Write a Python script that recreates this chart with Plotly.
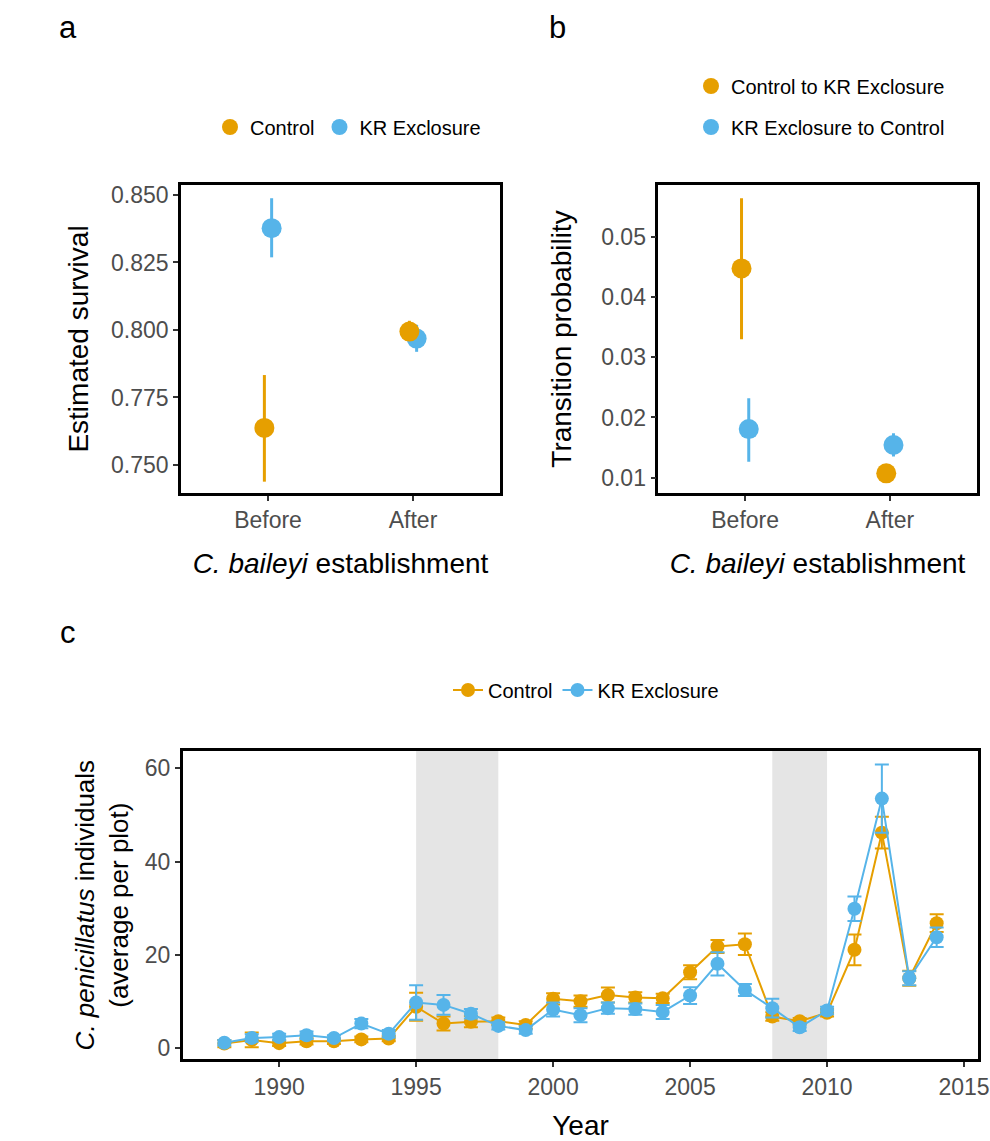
import plotly.graph_objects as go

ORANGE = "#E69F00"
BLUE = "#56B4E9"

# ---- Panel a: estimated survival ----
periods = ["Before", "After"]
surv_control = [0.7637, 0.7994]
surv_control_lo = [0.7438, 0.7960]
surv_control_hi = [0.7833, 0.8034]
surv_kr = [0.8377, 0.7968]
surv_kr_lo = [0.8269, 0.7919]
surv_kr_hi = [0.8488, 0.8019]

# ---- Panel b: transition probability ----
trans_c2k = [0.04475, 0.01073]
trans_c2k_lo = [0.0330, 0.0105]
trans_c2k_hi = [0.0564, 0.0110]
trans_k2c = [0.01807, 0.01543]
trans_k2c_lo = [0.01265, 0.0135]
trans_k2c_hi = [0.0232, 0.0174]

# ---- Panel c: C. penicillatus abundance ----
years = list(range(1988, 2015))
pp_control = [1.0, 1.8, 1.1, 1.5, 1.5, 1.9, 2.1, 8.9, 5.3, 5.7, 5.8, 5.0, 10.6, 10.1,
              11.4, 10.9, 10.7, 16.3, 21.8, 22.3, 6.8, 5.8, 7.6, 21.1, 46.2, 15.0, 26.8]
pp_control_se = [0.8, 1.6, 0.6, 0.7, 0.6, 0.6, 0.6, 3.0, 1.5, 1.2, 0.8, 0.8, 1.2, 1.2,
                 1.6, 1.1, 1.0, 1.5, 1.4, 2.3, 0.9, 0.7, 0.8, 3.3, 3.4, 1.6, 1.9]
pp_kr = [1.2, 2.2, 2.4, 2.8, 2.2, 5.3, 3.1, 9.8, 9.3, 7.4, 4.8, 3.9, 8.3, 7.1,
         8.6, 8.4, 7.8, 11.3, 18.1, 12.5, 8.6, 4.5, 8.1, 29.9, 53.5, 15.0, 23.8]
pp_kr_se = [0.6, 0.8, 0.7, 0.8, 0.6, 1.0, 0.8, 3.7, 2.1, 1.0, 0.8, 0.8, 1.5, 1.5,
            1.2, 1.2, 1.5, 1.8, 2.5, 1.3, 2.0, 0.8, 0.8, 2.6, 7.3, 1.5, 2.1]
shade_periods = [(1995, 1998), (2008, 2010)]

DODGE = 0.025
pos = [i + 1 for i in range(len(periods))]

def diffs(v, lo, hi):
    return [h - m for h, m in zip(hi, v)], [m - l for m, l in zip(v, lo)]

fig = go.Figure()

# Panel a (KR drawn first so Control sits on top, as in the original)
up, dn = diffs(surv_kr, surv_kr_lo, surv_kr_hi)
fig.add_trace(go.Scatter(
    x=[p + DODGE for p in pos], y=surv_kr, mode="markers", name="KR Exclosure",
    marker=dict(color=BLUE, size=20, line=dict(width=0)),
    error_y=dict(type="data", array=up, arrayminus=dn, color=BLUE, thickness=3, width=0),
    xaxis="x", yaxis="y", legend="legend", legendrank=2))
up, dn = diffs(surv_control, surv_control_lo, surv_control_hi)
fig.add_trace(go.Scatter(
    x=[p - DODGE for p in pos], y=surv_control, mode="markers", name="Control",
    marker=dict(color=ORANGE, size=20, line=dict(width=0)),
    error_y=dict(type="data", array=up, arrayminus=dn, color=ORANGE, thickness=3, width=0),
    xaxis="x", yaxis="y", legend="legend", legendrank=1))

# Panel b
up, dn = diffs(trans_c2k, trans_c2k_lo, trans_c2k_hi)
fig.add_trace(go.Scatter(
    x=[p - DODGE for p in pos], y=trans_c2k, mode="markers", name="Control to KR Exclosure",
    marker=dict(color=ORANGE, size=20, line=dict(width=0)),
    error_y=dict(type="data", array=up, arrayminus=dn, color=ORANGE, thickness=3, width=0),
    xaxis="x2", yaxis="y2", legend="legend2", legendrank=1, legendgroup="b1"))
up, dn = diffs(trans_k2c, trans_k2c_lo, trans_k2c_hi)
fig.add_trace(go.Scatter(
    x=[p + DODGE for p in pos], y=trans_k2c, mode="markers", name="KR Exclosure to Control",
    marker=dict(color=BLUE, size=20, line=dict(width=0)),
    error_y=dict(type="data", array=up, arrayminus=dn, color=BLUE, thickness=3, width=0),
    xaxis="x2", yaxis="y2", legend="legend2", legendrank=2, legendgroup="b2"))

# Panel c
fig.add_trace(go.Scatter(
    x=years, y=pp_control, mode="lines+markers", name="Control",
    line=dict(color=ORANGE, width=2), marker=dict(color=ORANGE, size=14),
    error_y=dict(type="data", array=pp_control_se, color=ORANGE, thickness=2, width=7),
    xaxis="x3", yaxis="y3", legend="legend3"))
fig.add_trace(go.Scatter(
    x=years, y=pp_kr, mode="lines+markers", name="KR Exclosure",
    line=dict(color=BLUE, width=2), marker=dict(color=BLUE, size=14),
    error_y=dict(type="data", array=pp_kr_se, color=BLUE, thickness=2, width=7),
    xaxis="x3", yaxis="y3", legend="legend3"))

for x0, x1 in shade_periods:
    fig.add_shape(type="rect", xref="x3", yref="y3 domain", x0=x0, x1=x1, y0=0, y1=1,
                  fillcolor="#E5E5E5", line=dict(width=0), layer="below")

W, H = 990, 1141
FONT = "Liberation Sans, Arial, sans-serif"
TICKF = dict(family=FONT, size=23, color="#4D4D4D")
TITLEF = dict(family=FONT, size=28, color="#000000")

def ax(**kw):
    base = dict(showline=True, mirror=True, linecolor="black", linewidth=2.5,
                ticks="outside", ticklen=5, tickwidth=1.5, tickcolor="#333333",
                showgrid=False, zeroline=False, tickfont=TICKF, automargin=False)
    base.update(kw)
    return base

ya_dom = [1 - 493 / H, 1 - 185 / H]
yc_dom = [1 - 1059.3 / H, 1 - 751 / H]

fig.update_layout(
    width=W, height=H, margin=dict(l=0, r=0, t=0, b=0, autoexpand=False),
    paper_bgcolor="white", plot_bgcolor="white",
    font=dict(family=FONT, color="black"),
    xaxis=ax(domain=[181 / W, 500 / W], range=[0.4, 2.6], tickvals=pos, ticktext=periods,
             title=dict(text="<i>C. baileyi</i> establishment", font=TITLEF, standoff=22),
             anchor="y"),
    yaxis=ax(domain=ya_dom, range=[0.7396, 0.8537], tickvals=[0.75, 0.775, 0.8, 0.825, 0.85],
             tickformat=".3f",
             title=dict(text="Estimated survival", font=TITLEF, standoff=15), anchor="x"),
    xaxis2=ax(domain=[658.3 / W, 976.7 / W], range=[0.4, 2.6], tickvals=pos, ticktext=periods,
              title=dict(text="<i>C. baileyi</i> establishment", font=TITLEF, standoff=22),
              anchor="y2"),
    yaxis2=ax(domain=ya_dom, range=[0.00746, 0.0586], tickvals=[0.01, 0.02, 0.03, 0.04, 0.05],
              tickformat=".2f",
              title=dict(text="Transition probability", font=TITLEF, standoff=22), anchor="x2"),
    xaxis3=ax(domain=[182.7 / W, 978.3 / W], range=[1986.48, 2015.52],
              tickvals=[1990, 1995, 2000, 2005, 2010, 2015],
              title=dict(text="Year", font=TITLEF, standoff=24), anchor="y3"),
    yaxis3=ax(domain=yc_dom, range=[-2.36, 63.7], tickvals=[0, 20, 40, 60],
              title=dict(text="<i>C. penicillatus</i> individuals<br>(average per plot)",
                         font=dict(family=FONT, size=26, color="#000000"), standoff=9),
              anchor="x3"),
    legend=dict(orientation="h", x=348 / W, y=1 - 127 / H, xanchor="center", yanchor="middle",
                font=dict(family=FONT, size=20, color="black"), bgcolor="rgba(0,0,0,0)",
                itemsizing="trace"),
    legend2=dict(orientation="v", x=691 / W, y=1 - 106.5 / H, xanchor="left", yanchor="middle",
                 font=dict(family=FONT, size=20, color="black"), bgcolor="rgba(0,0,0,0)",
                 tracegroupgap=12),
    legend3=dict(orientation="h", x=586 / W, y=1 - 690 / H, xanchor="center", yanchor="middle",
                 font=dict(family=FONT, size=20, color="black"), bgcolor="rgba(0,0,0,0)"),
    showlegend=True,
)

for letter, px, py in [("a", 68, 28), ("b", 557, 28), ("c", 68, 632)]:
    fig.add_annotation(text=letter, xref="paper", yref="paper", x=px / W, y=1 - py / H,
                       showarrow=False, xanchor="center", yanchor="middle",
                       font=dict(family=FONT, size=31, color="black"))

fig.write_html("out.html", config={"displayModeBar": False},
               post_script="document.body.style.margin='0';document.body.style.overflow='hidden';")
